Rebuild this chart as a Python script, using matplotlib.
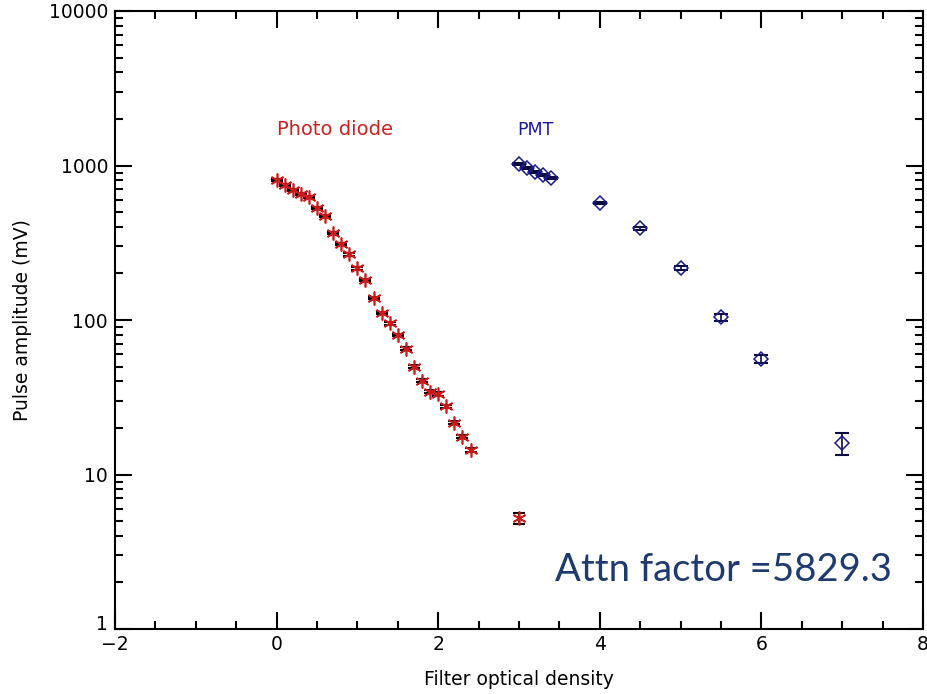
import matplotlib
matplotlib.use("Agg")
import matplotlib.pyplot as plt
from matplotlib.ticker import LogLocator, MultipleLocator, FixedLocator, NullFormatter
from matplotlib.transforms import ScaledTranslation

# Photo diode data
pd_x = [0.0, 0.1, 0.2, 0.3, 0.4, 0.5, 0.6, 0.7, 0.8, 0.9, 1.0, 1.1, 1.2,
        1.3, 1.4, 1.5, 1.6, 1.7, 1.8, 1.9, 2.0, 2.1, 2.2, 2.3, 2.4, 3.0]
pd_y = [805, 748, 694, 654, 623, 533, 473, 364, 310, 266, 216, 182, 139,
        111, 95, 80, 65, 50, 40.5, 34.4, 33.2, 27.7, 21.6, 17.6, 14.4, 5.2]
pd_err = [12, 11, 10, 10, 9, 8, 7, 6, 5, 4.5, 4, 3.5, 2.8,
          2.3, 2.0, 1.7, 1.4, 1.1, 0.9, 0.8, 0.8, 0.6, 0.5, 0.4, 0.4, 0.45]

# PMT data
pmt_x = [3.0, 3.1, 3.2, 3.3, 3.4, 4.0, 4.5, 5.0, 5.5, 6.0, 7.0]
pmt_y = [1020, 970, 912, 868, 826, 574, 392, 217, 104, 56, 16]
pmt_err = [15, 15, 14, 13, 12, 10, 8, 6, 6, 3.5, 2.7]

xticks = [-2, 0, 2, 4, 6, 8]
xtick_labels = ["\u22122", "0", "2", "4", "6", "8"]
yticks = [1, 10, 100, 1000, 10000]
ytick_labels = ["1", "10", "100", "1000", "10000"]

fig = plt.figure(figsize=(9.28, 6.94), dpi=100)
ax = fig.add_axes([115/928, 1-629/694, (923-115)/928, (629-11)/694])
ax.set_yscale("log")
ax.set_xlim(-2, 8)
ax.set_ylim(1, 10000)

ax.errorbar(pd_x, pd_y, yerr=pd_err, fmt="none", ecolor="black",
            elinewidth=1.2, capsize=4, capthick=1.5, zorder=2)
ax.plot(pd_x, pd_y, linestyle="none", marker=(6, 2, 0), markersize=10,
        markeredgecolor="#cc1a1a", markerfacecolor="none", markeredgewidth=1.2, zorder=3)

ax.errorbar(pmt_x, pmt_y, yerr=pmt_err, fmt="none", ecolor="#0a0a40",
            elinewidth=1.2, capsize=5, capthick=1.5, zorder=2)
ax.plot(pmt_x, pmt_y, linestyle="none", marker="D", markersize=7,
        markeredgecolor="#1a1a8c", markerfacecolor="none", markeredgewidth=1.1, zorder=3)

ax.text(0.0, 1700, "Photo diode", color="#cc2222", fontsize=14,
        family="DejaVu Sans", ha="left", va="center")
ax.text(2.98, 1700, "PMT", color="#1a1a9a", fontsize=12.5,
        family="DejaVu Sans", ha="left", va="center")
ax.text(3.45, 2.42, "Attn factor =5829.3", color="#1f3a6e", fontsize=27.5,
        family="Lato", ha="left", va="center")

ax.xaxis.set_major_locator(FixedLocator(xticks))
ax.xaxis.set_minor_locator(MultipleLocator(0.5))
ax.set_xticklabels(xtick_labels)
ax.yaxis.set_major_locator(FixedLocator(yticks))
ax.set_yticklabels(ytick_labels)
ax.yaxis.set_minor_locator(LogLocator(base=10, subs=range(2, 10), numticks=20))
ax.yaxis.set_minor_formatter(NullFormatter())

ax.tick_params(which="both", direction="in", top=True, right=True,
               width=1.5, labelsize=13.5, colors="black")
ax.tick_params(axis="y", pad=5)
ax.tick_params(axis="x", pad=4)
ax.tick_params(which="major", length=12)
ax.tick_params(which="minor", length=6)
for s in ax.spines.values():
    s.set_linewidth(1.5)

# lift the bottom "1" label slightly, as in the reference
first = ax.get_yticklabels()[0]
first.set_transform(first.get_transform() + ScaledTranslation(0, 5/72, fig.dpi_scale_trans))

ax.set_xlabel("Filter optical density", fontsize=13.5, labelpad=12)
ax.set_ylabel("Pulse amplitude (mV)", fontsize=13.5, labelpad=12)

fig.savefig("out.png", dpi=100)
